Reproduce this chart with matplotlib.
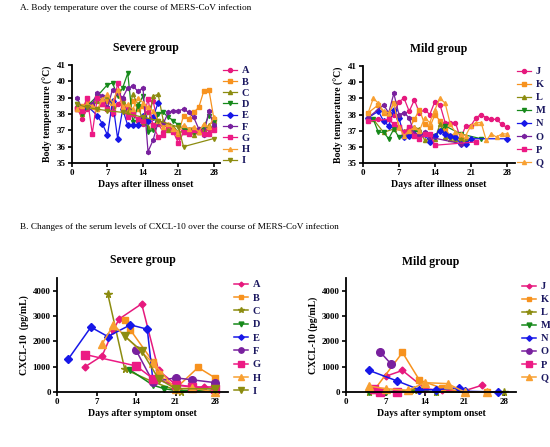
import matplotlib
matplotlib.use("Agg")
import matplotlib.pyplot as plt

plt.rcParams['font.family'] = ['Liberation Serif', 'DejaVu Serif']

W, H = 550, 447

# ---------------- data: body temperature, severe group ----------------
sev_names = ['A', 'B', 'C', 'D', 'E', 'F', 'G', 'H', 'I']
A_t_days = [1, 2, 3, 4, 5, 6, 7, 8, 9, 10, 11, 12, 13, 14, 15, 16, 17, 18, 19, 20, 21, 22, 23, 24, 25, 26, 27, 28]
A_t_vals = [38.4, 37.7, 38.3, 38.6, 39.0, 38.8, 38.3, 38.0, 38.6, 38.9, 38.3, 38.0, 37.6, 37.4, 38.1, 38.8, 37.4, 36.9, 37.1, 37.0, 36.6, 37.2, 37.0, 36.9, 37.1, 37.0, 37.1, 37.2]
B_t_days = [1, 2, 3, 4, 5, 6, 7, 8, 9, 10, 11, 12, 13, 14, 15, 16, 17, 18, 19, 20, 21, 22, 23, 24, 25, 26, 27, 28]
B_t_vals = [38.3, 38.5, 38.7, 38.4, 38.3, 38.6, 38.8, 38.4, 39.4, 38.5, 38.1, 38.8, 38.3, 38.5, 37.6, 37.3, 37.6, 37.4, 37.2, 37.0, 36.8, 37.9, 37.7, 38.1, 38.4, 39.4, 39.5, 37.7]
C_t_days = [1, 2, 3, 5, 7, 8, 9, 10, 11, 12, 13, 14, 15, 16, 17, 18, 19, 20, 21, 22, 23, 24, 25, 26, 27, 28]
C_t_vals = [38.5, 38.0, 38.4, 38.8, 39.1, 38.5, 39.4, 38.8, 38.0, 39.2, 38.6, 37.5, 37.2, 39.1, 39.2, 37.6, 37.0, 37.2, 36.9, 36.9, 37.1, 36.7, 36.9, 37.0, 37.3, 37.6]
D_t_days = [1, 2, 3, 5, 7, 8, 9, 10, 11, 12, 13, 14, 15, 16, 17, 18, 19, 20, 21, 22, 23, 24, 25, 26, 27, 28]
D_t_vals = [38.6, 38.0, 38.5, 39.1, 39.8, 39.9, 39.1, 39.6, 40.5, 37.5, 38.5, 39.1, 36.9, 37.0, 38.0, 38.1, 37.8, 37.6, 37.3, 37.1, 37.0, 36.9, 36.9, 37.2, 37.9, 37.6]
E_t_days = [2, 3, 5, 6, 7, 8, 9, 10, 11, 12, 13, 14, 15, 16, 17]
E_t_vals = [38.3, 38.5, 37.9, 37.4, 36.7, 38.8, 36.5, 38.3, 37.3, 37.3, 37.3, 37.9, 37.6, 37.8, 38.7]
F_t_days = [1, 2, 4, 5, 6, 7, 8, 9, 10, 11, 12, 13, 14, 15, 16, 17, 18, 19, 20, 21, 22, 23, 24, 25, 26, 27, 28]
F_t_vals = [39.0, 38.3, 38.6, 39.3, 39.1, 38.4, 39.5, 39.3, 39.0, 39.6, 39.7, 39.4, 39.6, 35.7, 36.4, 37.5, 37.4, 38.1, 38.2, 38.2, 38.3, 38.1, 37.8, 37.1, 36.7, 38.2, 37.3]
G_t_days = [1, 2, 3, 4, 5, 6, 7, 8, 9, 10, 11, 12, 13, 14, 15, 16, 17, 18, 19, 20, 21, 22, 23, 24, 25, 26, 27, 28]
G_t_vals = [38.3, 38.2, 39.0, 36.8, 39.0, 38.6, 38.3, 38.1, 39.9, 38.3, 37.8, 38.0, 37.7, 37.6, 38.9, 37.3, 36.6, 36.7, 37.3, 36.9, 36.2, 36.9, 36.8, 37.0, 36.9, 36.8, 36.8, 37.0]
H_t_days = [1, 2, 3, 4, 5, 6, 7, 8, 9, 10, 11, 12, 13, 14, 15, 16, 17, 18, 19, 20, 21, 22, 23, 24, 25, 26, 27, 28]
H_t_vals = [38.3, 38.5, 38.6, 38.5, 38.3, 38.9, 39.2, 38.7, 39.5, 38.4, 38.6, 38.3, 39.0, 38.7, 38.4, 38.2, 37.6, 37.2, 37.4, 37.1, 36.9, 37.3, 37.1, 37.2, 36.9, 37.4, 37.2, 37.8]
I_t_days = [1, 3, 5, 7, 10, 14, 17, 21, 22, 28]
I_t_vals = [38.6, 38.4, 38.3, 38.2, 38.1, 37.8, 37.6, 37.2, 36.0, 36.5]

# ---------------- data: body temperature, mild group ----------------
mild_names = ['J', 'K', 'L', 'M', 'N', 'O', 'P', 'Q']
J_t_days = [1, 3, 4, 5, 6, 7, 8, 9, 10, 11, 12, 13, 14, 15, 16, 17, 18, 19, 20, 21, 22, 23, 24, 25, 26, 27, 28]
J_t_vals = [37.7, 37.7, 37.6, 37.7, 38.0, 38.8, 39.0, 38.2, 38.9, 38.1, 38.3, 38.0, 38.8, 38.6, 37.5, 37.5, 37.5, 36.5, 37.3, 37.3, 37.8, 38.0, 37.8, 37.7, 37.7, 37.4, 37.2]
K_t_days = [1, 3, 4, 5, 6, 7, 8, 9, 10, 11, 12, 13, 14, 15, 16, 17, 18, 19]
K_t_vals = [38.1, 38.6, 38.1, 38.0, 38.7, 37.2, 36.8, 37.1, 37.7, 38.3, 37.4, 37.2, 38.0, 37.6, 37.1, 36.7, 36.6, 36.5]
L_t_days = [2, 4, 6, 8, 10, 11, 12, 14, 15, 16, 17, 18, 19, 20]
L_t_vals = [37.7, 36.9, 37.1, 37.0, 37.2, 37.1, 36.4, 36.5, 37.4, 36.6, 36.5, 36.5, 36.5, 36.5]
M_t_days = [1, 2, 3, 4, 5, 6, 7, 8, 9, 10, 12, 14, 15, 16, 19, 23]
M_t_vals = [37.7, 37.7, 36.9, 36.9, 36.5, 37.1, 36.6, 36.8, 36.8, 37.0, 36.8, 36.7, 37.0, 37.3, 36.8, 36.5]
N_t_days = [1, 3, 4, 5, 6, 7, 8, 9, 10, 11, 12, 13, 14, 15, 16, 17, 18, 19, 20, 21, 28]
N_t_vals = [37.8, 38.2, 37.6, 37.3, 38.3, 37.8, 36.6, 36.7, 36.8, 36.7, 36.8, 36.3, 36.7, 37.0, 36.8, 36.7, 36.6, 36.2, 36.2, 36.5, 36.5]
O_t_days = [1, 4, 5, 6, 7, 8, 9, 10, 11, 12, 13, 19]
O_t_vals = [37.8, 38.6, 38.1, 39.3, 38.0, 38.1, 37.8, 36.8, 36.7, 36.9, 36.6, 36.2]
P_t_days = [1, 5, 6, 7, 8, 9, 10, 11, 12, 13, 14, 22]
P_t_vals = [37.6, 37.7, 37.4, 37.2, 36.9, 37.2, 36.7, 36.5, 36.8, 36.8, 36.1, 36.3]
Q_t_days = [1, 2, 3, 4, 5, 6, 7, 8, 9, 10, 11, 12, 13, 14, 15, 16, 17, 18, 19, 20, 21, 22, 23, 24, 25, 26, 27, 28]
Q_t_vals = [38.1, 39.0, 38.7, 38.2, 38.1, 38.7, 37.2, 36.7, 37.0, 37.2, 37.0, 37.8, 37.5, 38.3, 39.0, 38.7, 37.4, 36.9, 36.8, 36.7, 37.3, 37.5, 37.5, 36.4, 36.8, 36.6, 36.8, 36.8]

# ---------------- data: CXCL-10, severe group ----------------
A_c_days = [5, 8, 10, 11, 15, 18, 21, 24, 26, 28]
A_c_vals = [1000, 1430, 2450, 2880, 3480, 850, 300, 200, 200, 200]
B_c_days = [12, 13, 17, 18, 21, 25, 28]
B_c_vals = [2850, 2450, 1200, 700, 130, 970, 560]
C_c_days = [9, 12, 17, 22, 28]
C_c_vals = [3870, 900, 400, 0, 70]
D_c_days = [13, 17, 19, 21, 28]
D_c_vals = [860, 270, 130, 60, 60]
E_c_days = [2, 6, 9, 13, 16, 17]
E_c_vals = [1300, 2560, 2190, 2650, 2480, 450]
F_c_days = [14, 17, 21, 24, 28]
F_c_vals = [1650, 400, 560, 480, 370]
G_c_days = [5, 14, 17, 21, 24, 28]
G_c_vals = [1480, 1030, 530, 270, 200, 130]
H_c_days = [8, 10, 17, 21, 24, 28]
H_c_vals = [1900, 2650, 1150, 120, 160, 0]
I_c_days = [12, 15, 18, 21, 28]
I_c_vals = [2200, 1620, 520, 130, 130]

# ---------------- data: CXCL-10, mild group ----------------
J_c_days = [7, 10, 14, 17, 21, 24]
J_c_vals = [620, 850, 130, 60, 50, 260]
K_c_days = [5, 10, 13, 17, 21, 25]
K_c_vals = [80, 1560, 470, 150, 10, 0]
L_c_days = [4, 12, 16, 28]
L_c_vals = [0, 60, 0, 0]
M_c_days = [4, 7, 13, 16]
M_c_vals = [0, 0, 40, 0]
N_c_days = [4, 9, 13, 16, 20, 21, 27]
N_c_vals = [860, 440, 90, 90, 170, 30, 0]
O_c_days = [6, 8]
O_c_vals = [1590, 1100]
P_c_days = [5, 6, 9]
P_c_vals = [100, 0, 0]
Q_c_days = [4, 7, 11, 14, 18, 21, 25]
Q_c_vals = [240, 130, 70, 370, 330, 0, 0]

x_ticks = [0, 7, 14, 21, 28]
temp_ticks = [35, 36, 37, 38, 39, 40, 41]
cxcl_ticks = [0, 1000, 2000, 3000, 4000]

# ---------------- styles ----------------
colors = {
    'A': '#e6197d', 'B': '#f7921e', 'C': '#8c8c10', 'D': '#16891a', 'E': '#1717e8',
    'F': '#78209e', 'G': '#ec1a84', 'H': '#f8a032', 'I': '#8c8c10',
}
mild_map = dict(zip(mild_names, sev_names[:8]))
for m, s in mild_map.items():
    colors[m] = colors[s]

mk_top = {'A': 'o', 'B': 's', 'C': '^', 'D': 'v', 'E': 'D', 'F': 'h', 'G': 's', 'H': '^', 'I': 'v'}
mk_bot = {'A': 'D', 'B': 's', 'C': '*', 'D': 'v', 'E': 'D', 'F': 'o', 'G': 's', 'H': '^', 'I': 'v'}
ms_bot = {'A': 3.5, 'B': 4.5, 'C': 5.5, 'D': 5, 'E': 4, 'F': 5.5, 'G': 6, 'H': 6, 'I': 6}
for m, s in mild_map.items():
    mk_top[m] = mk_top[s]
    mk_bot[m] = mk_bot[s]
    ms_bot[m] = ms_bot[s]

g = globals()
label_color = '#1b1860'

fig = plt.figure(figsize=(W / 100, H / 100), dpi=100)


def px_axes(left, right, top, bottom):
    return fig.add_axes([left / W, 1 - bottom / H, (right - left) / W, (bottom - top) / H])


def style(ax):
    for s in ['top', 'right']:
        ax.spines[s].set_visible(False)
    for s in ['left', 'bottom']:
        ax.spines[s].set_linewidth(1.3)
    ax.tick_params(direction='out', length=3, width=1.2, labelsize=6.5, pad=1.5)
    for lab in ax.get_xticklabels() + ax.get_yticklabels():
        lab.set_fontweight('bold')


def legend(ax, x, y, spacing, mscale=1.0):
    leg = ax.legend(loc='upper left', bbox_to_anchor=(x / W, 1 - y / H), bbox_transform=fig.transFigure,
                    frameon=False, borderpad=0, borderaxespad=0, handlelength=1.3, handletextpad=0.5,
                    labelspacing=spacing, markerscale=mscale, prop={'weight': 'bold', 'size': 7.5})
    for t in leg.get_texts():
        t.set_color(label_color)
    return leg


# ---------- panel A: severe ----------
ax1 = px_axes(72, 220, 65, 163)
for n in sev_names:
    ax1.plot(g[n + '_t_days'], g[n + '_t_vals'], color=colors[n], marker=mk_top[n], ms=2.9,
             lw=0.9, label=n, clip_on=False)
ax1.set_xlim(0, 29.2)
ax1.set_ylim(35, 41)
ax1.set_xticks(x_ticks)
ax1.set_yticks(temp_ticks)
style(ax1)
ax1.set_xlabel('Days after illness onset', fontsize=7, fontweight='bold', labelpad=2)
ax1.set_ylabel('Body temperature (\u00b0C)', fontsize=7, fontweight='bold', labelpad=3)
ax1.set_title('Severe group', fontsize=8.5, fontweight='bold', pad=10)
legend(ax1, 223, 66, 0.19)

# ---------- panel A: mild ----------
ax2 = px_axes(363, 515, 66, 163)
for n in mild_names:
    ax2.plot(g[n + '_t_days'], g[n + '_t_vals'], color=colors[n], marker=mk_top[n], ms=2.9,
             lw=0.9, label=n, clip_on=False)
ax2.set_xlim(0, 29.6)
ax2.set_ylim(35, 41)
ax2.set_xticks(x_ticks)
ax2.set_yticks(temp_ticks)
style(ax2)
ax2.set_xlabel('Days after illness onset', fontsize=7, fontweight='bold', labelpad=2)
ax2.set_ylabel('Body temperature (\u00b0C)', fontsize=7, fontweight='bold', labelpad=3)
ax2.set_title('Mild group', fontsize=8.5, fontweight='bold', pad=10)
legend(ax2, 517, 67, 0.36)

# ---------- panel B: severe ----------
ax3 = px_axes(57, 228, 278, 392)
for n in sev_names:
    ax3.plot(g[n + '_c_days'], g[n + '_c_vals'], color=colors[n], marker=mk_bot[n], ms=ms_bot[n],
             lw=1.1, label=n, clip_on=False)
ax3.set_xlim(0, 30.3)
ax3.set_ylim(0, 4500)
ax3.set_xticks(x_ticks)
ax3.set_yticks(cxcl_ticks)
style(ax3)
ax3.set_xlabel('Days after symptom onset', fontsize=7, fontweight='bold', labelpad=2)
ax3.set_ylabel('CXCL-10  (pg/mL)', fontsize=7, fontweight='bold', labelpad=3)
ax3.set_title('Severe group', fontsize=8.5, fontweight='bold', pad=11)
legend(ax3, 234, 280, 0.39, mscale=0.7)

# ---------- panel B: mild ----------
ax4 = px_axes(346, 516, 278, 392)
for n in mild_names:
    ax4.plot(g[n + '_c_days'], g[n + '_c_vals'], color=colors[n], marker=mk_bot[n], ms=ms_bot[n],
             lw=1.1, label=n, clip_on=False)
ax4.set_xlim(0, 30.1)
ax4.set_ylim(0, 4500)
ax4.set_xticks(x_ticks)
ax4.set_yticks(cxcl_ticks)
style(ax4)
ax4.set_xlabel('Days after symptom onset', fontsize=7, fontweight='bold', labelpad=2)
ax4.set_ylabel('CXCL-10 (pg/mL)', fontsize=7, fontweight='bold', labelpad=3)
ax4.set_title('Mild group', fontsize=8.5, fontweight='bold', pad=9)
legend(ax4, 522, 282, 0.36, mscale=0.7)

# ---------- panel headings ----------
fig.text(20 / W, 1 - 8 / H, 'A. Body temperature over the course of MERS-CoV infection',
         fontsize=6.7, va='center', ha='left')
fig.text(20 / W, 1 - 227 / H, 'B. Changes of the serum levels of CXCL-10 over the course of MERS-CoV infection',
         fontsize=6.7, va='center', ha='left')

fig.savefig('out.png', dpi=100)
